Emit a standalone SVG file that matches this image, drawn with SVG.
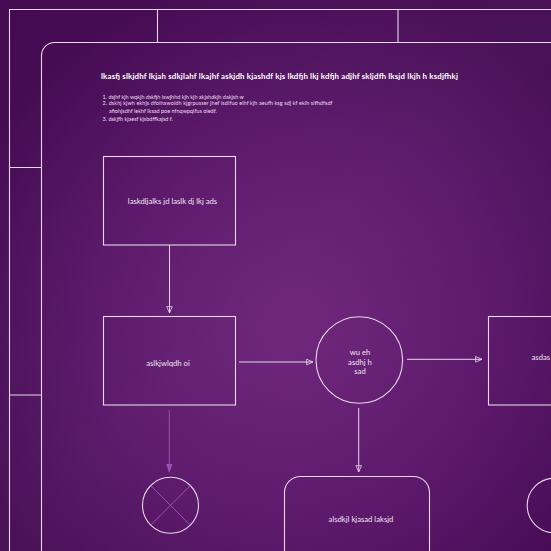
<svg xmlns="http://www.w3.org/2000/svg" width="551" height="551" viewBox="0 0 551 551">
<defs>
<radialGradient id="bg" cx="300" cy="330" r="360" gradientUnits="userSpaceOnUse">
<stop offset="0" stop-color="#6c2279"/>
<stop offset="0.55" stop-color="#5a1669"/>
<stop offset="1" stop-color="#440a52"/>
</radialGradient>
<linearGradient id="sheen" x1="0" y1="0" x2="551" y2="551" gradientUnits="userSpaceOnUse">
<stop offset="0" stop-color="#ffffff" stop-opacity="0"/>
<stop offset="0.5" stop-color="#ffffff" stop-opacity="0.03"/>
<stop offset="1" stop-color="#ffffff" stop-opacity="0"/>
</linearGradient>
<marker id="open" viewBox="0 0 10 10" refX="9" refY="5" markerWidth="8" markerHeight="8" markerUnits="userSpaceOnUse" orient="auto">
<path d="M1,1.5 L9,5 L1,8.5 Z" fill="none" stroke="#e4d8ea" stroke-width="1"/>
</marker>
<marker id="solid" viewBox="0 0 10 10" refX="9" refY="5" markerWidth="9" markerHeight="9" markerUnits="userSpaceOnUse" orient="auto">
<path d="M0,1.5 L10,5 L0,8.5 Z" fill="#9d50b4"/>
</marker>
</defs>
<style>
.ln{fill:none;stroke:#e4d8ea;stroke-width:1.1}
.con{fill:none;stroke:#e4d8ea;stroke-width:1}
.pur{fill:none;stroke:#9d50b4;stroke-width:1}
.t{font-family:"Lato","Open Sans",sans-serif;fill:#ece4f0;font-size:7.7px;text-anchor:middle}
.title{font-family:"Lato","Open Sans",sans-serif;fill:#ffffff;font-size:7.9px;font-weight:bold}
.li{font-family:"Lato","Open Sans",sans-serif;fill:#e8dfee;font-size:5.5px}
</style>
<rect width="551" height="551" fill="url(#bg)"/>
<rect width="551" height="551" fill="url(#sheen)"/>

<g id="frame">
<path class="ln" d="M9.5,551 V9.5 H551"/>
<path class="ln" d="M157.5,9.5 V42.5 M398,9.5 V42.5"/>
<path class="ln" d="M9.5,167.5 H41.5 M9.5,395 H41.5"/>
<path class="ln" d="M41.5,551 V55.5 A13,13 0 0 1 54.5,42.5 H551"/>
</g>

<g id="header">
<text class="title" x="101" y="79" textLength="357" lengthAdjust="spacing">lkasfj slkjdhf lkjah  sdkjlahf lkajhf askjdh kjashdf kjs lkdfjh lkj kdfjh   adjhf skljdfh lksjd lkjh h ksdjfhkj</text>
<text class="li" x="102.5" y="99">1.  dsjhf kjh wqkjh dskfjh lswjhhd kjh kjh akjshdkjh dakjsh w</text>
<text class="li" x="102.5" y="105.2" textLength="230" lengthAdjust="spacing">2.  dskhj kjwh ekhjs dfoihawoidh kjgrpusser jhef lsdifuo eihf kjh aeufh ksg sdj kf ekih slfhdfsdf</text>
<text class="li" x="109" y="112.5">afiohjsdhf lekhf lksad poe nfnqwpqifus oiedf.</text>
<text class="li" x="102.5" y="121">3.  dskjfh kjaesf kjsbdffkajsd f.</text>
</g>

<g id="connectors">
<line class="con" x1="169.5" y1="245" x2="169.5" y2="313" marker-end="url(#open)"/>
<line class="con" x1="239" y1="362" x2="313" y2="362" marker-end="url(#open)"/>
<line class="con" x1="407" y1="359.3" x2="482" y2="359.3" marker-end="url(#open)"/>
<line class="con" x1="358.7" y1="408" x2="358.7" y2="472" marker-end="url(#open)"/>
<line class="pur" x1="169.3" y1="410" x2="169.3" y2="472" marker-end="url(#solid)"/>
</g>

<g id="n1">
<rect class="ln" x="103.5" y="156.5" width="132" height="88.5"/>
<text class="t" x="172.5" y="204">laskdljalks jd laslk dj lkj ads</text>
</g>
<g id="n2">
<rect class="ln" x="103.5" y="316.5" width="132" height="88.5"/>
<text class="t" x="168" y="365.5">aslkjwlqdh oi</text>
</g>
<g id="n3">
<circle class="ln" cx="359.3" cy="360" r="43.3"/>
<text class="t" x="360" y="355">wu eh</text>
<text class="t" x="360" y="364.5">asdhj h</text>
<text class="t" x="360" y="373.5">sad</text>
</g>
<g id="n4">
<rect class="ln" x="488.5" y="316.5" width="80" height="88.5"/>
<text class="t" x="531.5" y="360" style="text-anchor:start">asdas</text>
</g>
<g id="n5">
<circle class="ln" cx="170.5" cy="505.3" r="28"/>
<path class="pur" d="M150.7,485.5 L190.3,525.1 M190.3,485.5 L150.7,525.1"/>
</g>
<g id="n6">
<rect class="ln" x="284.5" y="476.5" width="145" height="110" rx="16" ry="16"/>
<text class="t" x="361" y="522">alsdkjl kjasad laksjd</text>
</g>
<g id="n7">
<circle class="ln" cx="554.5" cy="505.5" r="27.3"/>
</g>
</svg>
